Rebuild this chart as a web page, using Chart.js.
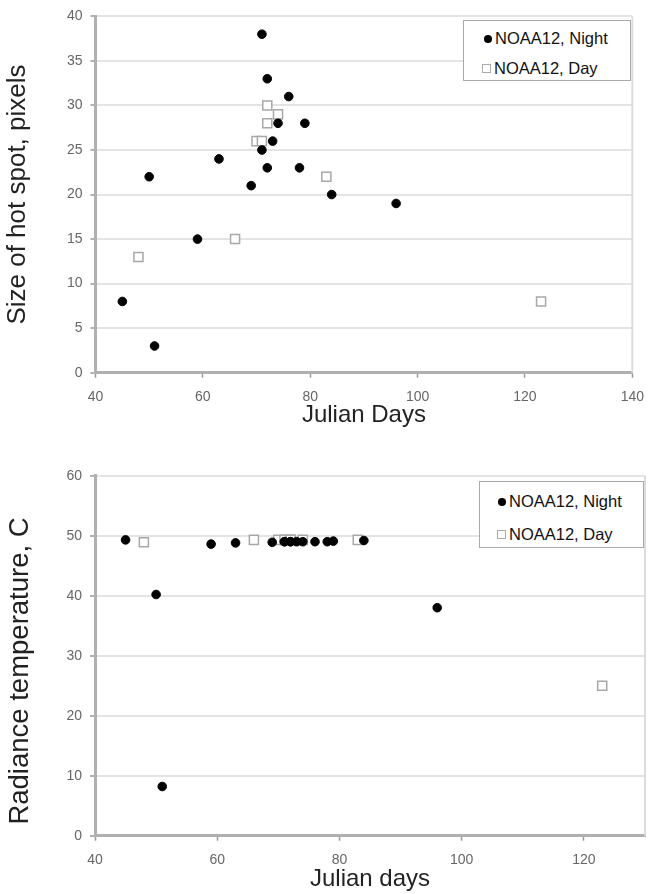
<!DOCTYPE html>
<html>
<head>
<meta charset="utf-8">
<script src="https://cdn.jsdelivr.net/npm/chart.js@4/dist/chart.umd.min.js"></script>
<style>
  body { margin: 0; background: #fff; width: 655px; height: 894px; position: relative; overflow: hidden; }
  canvas { position: absolute; left: 0; }
  #spotChart { top: 0; }
  #radChart { top: 440px; }
  .legend {
    position: absolute; background: #fff; border: 1.5px solid #aaa; box-sizing: border-box;
    font-family: Arial, "Liberation Sans", sans-serif; font-size: 16.5px; color: #111;
  }
  .legend .row { position: absolute; left: 0; white-space: nowrap; line-height: 18px; }
  .legend .dot { display: inline-block; width: 8px; height: 8px; border-radius: 50%; background: #000; margin-right: 3px; vertical-align: 1px; }
  .legend .box { display: inline-block; width: 7px; height: 7px; border: 1.5px solid #aaa; background: #fff; margin-right: 3px; vertical-align: 1px; }
</style>
</head>
<body>
<canvas id="spotChart" width="655" height="430"></canvas>
<canvas id="radChart" width="655" height="454"></canvas>

<div class="legend" style="left:463px; top:20px; width:168px; height:61px;">
  <div class="row" style="top:8px; left:20px;"><span class="dot"></span>NOAA12, Night</div>
  <div class="row" style="top:38px; left:18px;"><span class="box"></span>NOAA12, Day</div>
</div>
<div class="legend" style="left:479px; top:481px; width:165px; height:67px;">
  <div class="row" style="top:10px; left:18px;"><span class="dot"></span>NOAA12, Night</div>
  <div class="row" style="top:43px; left:17px;"><span class="box"></span>NOAA12, Day</div>
</div>

<script>
// NOAA12 night passes
const nightDays = [45, 50, 51, 59, 63, 69, 71, 71, 72, 72, 73, 74, 76, 78, 79, 84, 96];
const nightSpotSize = [8, 22, 3, 15, 24, 21, 38, 25, 33, 23, 26, 28, 31, 23, 28, 20, 19];
const nightRadiance = [49.3, 40.2, 8.2, 48.6, 48.8, 48.9, 49, 49, 49, 49, 49, 49, 49, 49, 49.1, 49.2, 38];

// NOAA12 day passes
const dayDays = [48, 66, 70, 71, 72, 72, 74, 83, 123];
const daySpotSize = [13, 15, 26, 26, 30, 28, 29, 22, 8];
const dayRadiance = [48.9, 49.3, 49.3, 49.3, 49.3, 49.3, 49.3, 49.3, 25];

const spotTicksX = [40, 60, 80, 100, 120, 140];
const spotTicksY = [0, 5, 10, 15, 20, 25, 30, 35, 40];
const radTicksX = [40, 60, 80, 100, 120];
const radTicksY = [0, 10, 20, 30, 40, 50, 60];

const FONT = 'Arial, "Liberation Sans", sans-serif';

function pts(xs, ys) {
  return xs.map((x, i) => ({ x: x, y: ys[i] }));
}

// light frame on the right edge of the plot area
const plotFrame = {
  id: 'plotFrame',
  beforeDatasetsDraw(chart) {
    const a = chart.chartArea;
    const ctx = chart.ctx;
    ctx.save();
    ctx.strokeStyle = '#dcdcdc';
    ctx.lineWidth = 2;
    ctx.beginPath();
    ctx.moveTo(a.right, a.top);
    ctx.lineTo(a.right, a.bottom);
    ctx.stroke();
    ctx.restore();
  }
};

function makeChart(id, cfg) {
  return new Chart(document.getElementById(id), {
    type: 'scatter',
    data: {
      datasets: [{
        label: 'NOAA12, Night',
        data: pts(nightDays, cfg.night),
        pointStyle: 'circle',
        pointRadius: 4.3,
        backgroundColor: '#000',
        borderColor: '#000',
        borderWidth: 1
      }, {
        label: 'NOAA12, Day',
        data: pts(dayDays, cfg.day),
        pointStyle: 'rect',
        pointRadius: 6.4,
        backgroundColor: '#fff',
        borderColor: '#a8a8a8',
        borderWidth: 1.5
      }]
    },
    options: {
      responsive: false,
      animation: false,
      events: [],
      layout: { padding: cfg.padding },
      plugins: { legend: { display: false }, tooltip: { enabled: false } },
      scales: {
        x: {
          type: 'linear',
          min: cfg.xMin,
          max: cfg.xMax,
          afterBuildTicks: s => { s.ticks = cfg.xTicks.map(v => ({ value: v })); },
          afterFit: s => { s.height = cfg.xHeight; },
          grid: { drawOnChartArea: false, tickLength: 5, tickColor: '#999', tickWidth: 1.5 },
          border: { color: '#b0b0b0', width: 3 },
          ticks: { padding: 11, color: '#666', font: { family: FONT, size: 14 } },
          title: {
            display: true, text: cfg.xTitle, color: '#222',
            font: { family: FONT, size: 24 }, padding: { top: 0, bottom: 0 }
          }
        },
        y: {
          min: cfg.yMin,
          max: cfg.yMax,
          afterBuildTicks: s => { s.ticks = cfg.yTicks.map(v => ({ value: v })); },
          afterFit: s => { s.width = cfg.yWidth; },
          grid: { color: '#e4e4e4', lineWidth: 2, tickLength: 5, tickColor: '#999', tickWidth: 1.5 },
          border: { color: '#b0b0b0', width: 3 },
          ticks: { padding: 8, color: '#666', font: { family: FONT, size: 14 } },
          title: {
            display: true, text: cfg.yTitle, color: '#222',
            font: { family: FONT, size: cfg.yTitleSize }, padding: { top: cfg.yTitlePad, bottom: 0 }
          }
        }
      }
    },
    plugins: [plotFrame]
  });
}

makeChart('spotChart', {
  night: nightSpotSize,
  day: daySpotSize,
  xMin: 40, xMax: 140, xTicks: spotTicksX,
  yMin: 0, yMax: 40, yTicks: spotTicksY,
  xTitle: 'Julian Days',
  yTitle: 'Size of hot spot, pixels',
  yTitleSize: 26,
  yTitlePad: 2.4,
  padding: { top: 13, right: 14.5, left: 0, bottom: 0 },
  xHeight: 57.3,
  yWidth: 95.5
});

makeChart('radChart', {
  night: nightRadiance,
  day: dayRadiance,
  xMin: 40, xMax: 130, xTicks: radTicksX,
  yMin: 0, yMax: 60, yTicks: radTicksY,
  xTitle: 'Julian days',
  // trailing spaces push the rotated title a little toward the bottom
  yTitle: 'Radiance temperature, C    ',
  yTitleSize: 27.5,
  yTitlePad: 3.5,
  padding: { top: 35.7, right: 10, left: 0, bottom: 0 },
  xHeight: 58.3,
  yWidth: 95
});
</script>
</body>
</html>
